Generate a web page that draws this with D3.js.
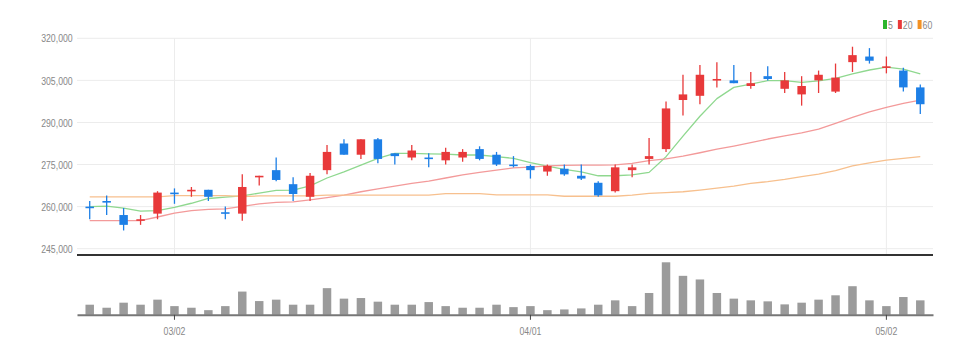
<!DOCTYPE html>
<html>
<head>
<meta charset="utf-8">
<script src="https://cdn.jsdelivr.net/npm/d3@7"></script>
<style>
  body { margin: 0; background: #fff; }
  text { font-family: "Liberation Sans Narrow", "Arial Narrow", "Liberation Sans", sans-serif; }
</style>
</head>
<body>
<script>
const dates = [
  "2022-02-22","2022-02-23","2022-02-24","2022-02-25","2022-02-28",
  "2022-03-02","2022-03-03","2022-03-04","2022-03-07","2022-03-08","2022-03-10","2022-03-11",
  "2022-03-14","2022-03-15","2022-03-16","2022-03-17","2022-03-18","2022-03-21","2022-03-22",
  "2022-03-23","2022-03-24","2022-03-25","2022-03-28","2022-03-29","2022-03-30","2022-03-31",
  "2022-04-01","2022-04-04","2022-04-05","2022-04-06","2022-04-07","2022-04-08","2022-04-11",
  "2022-04-12","2022-04-13","2022-04-14","2022-04-15","2022-04-18","2022-04-19","2022-04-20",
  "2022-04-21","2022-04-22","2022-04-25","2022-04-26","2022-04-27","2022-04-28","2022-04-29",
  "2022-05-02","2022-05-03","2022-05-04"
];

const open  = [260000,262000,257000,255000,257500,265000,265500,266000,258000,257500,270500,273000,268000,263500,273000,282500,278500,284000,279000,277500,277500,276500,277500,280500,278500,275000,274500,272500,273500,271000,268500,265500,273000,277000,280500,298000,299500,305000,305000,303000,306500,302000,300000,305000,301000,311500,313500,309500,308500,302500];
const high  = [262000,264000,259500,257000,265500,266500,267000,266000,260000,271500,271000,277500,270500,272000,282000,284000,284000,284500,279000,282000,279000,281000,280500,281500,279500,278000,275000,275000,275000,275000,269000,275000,275000,284500,297500,307000,310500,311500,310500,308000,310000,308000,306500,308500,311000,317000,316500,313500,309500,303500];
const low   = [255500,257000,251500,253500,255500,261000,263500,262000,255500,255000,267500,269000,262000,262000,271500,278500,277000,275500,275000,276500,274000,275000,276000,276500,274500,274000,270000,271000,271000,269500,263500,265000,270500,275000,279500,292500,296500,302500,304000,302000,305000,300500,296000,300500,300500,308000,311000,307500,301000,293000];
const close = [259500,261500,253500,255500,265000,264500,266000,263500,257500,267000,271000,269500,264500,271000,279500,278500,284000,277000,278000,280000,277000,279500,279500,277000,275000,274500,273000,274500,271500,270000,264000,274000,274000,278000,295000,300000,307000,305500,304000,304000,305500,305000,303000,307000,306000,314000,312000,310000,302500,296500];

const ma5  = [260000,260200,259500,258400,258600,259700,261200,262900,263400,263800,264800,265800,265900,267400,270200,272400,274800,277200,279000,279000,278800,278700,278400,278400,277800,277200,275700,274400,273300,272400,271000,271000,271300,272200,277800,285100,292200,298500,302500,303700,304900,304900,304300,304800,305700,307300,308700,309700,309000,307300];
const ma20 = [255000,255000,255000,255000,256300,257700,258600,259000,259200,260100,261000,261500,261700,262400,263200,264100,265300,266300,267300,268300,269100,270200,271300,272200,273000,273800,274100,274500,274700,274800,274800,274900,275400,276400,277000,278000,279200,280500,281600,282800,284100,285200,286300,287600,289700,291800,293800,295400,296800,298000];
const ma60 = [263500,263500,263500,263500,263500,263900,263900,263900,263900,263600,263800,263800,263800,263800,264100,264100,264100,264100,264100,264100,264100,264600,264600,264600,264200,264200,264200,264200,263700,263700,263700,263700,264100,264700,265000,265300,265900,266600,267300,268300,268900,269700,270700,271600,272800,274500,275600,276600,277200,277800];

const volume = [250000,175000,300000,250000,375000,215000,175000,115000,215000,575000,340000,375000,250000,250000,660000,400000,415000,325000,250000,250000,315000,215000,175000,175000,250000,190000,215000,115000,133000,158000,250000,358000,215000,540000,1300000,965000,875000,540000,400000,358000,333000,258000,300000,375000,483000,708000,358000,215000,440000,358000];

const yTicks = [245000, 260000, 275000, 290000, 305000, 320000];
const xTicks = ["2022-03-02", "2022-04-01", "2022-05-02"];
const tickLabels = ["03/02", "04/01", "05/02"];

const maSeries = [
  { name: "5",  values: ma5,  color: "#8fd88f", key: "#2cb52c" },
  { name: "20", values: ma20, color: "#f39a9a", key: "#e8393a" },
  { name: "60", values: ma60, color: "#f7c08e", key: "#f39224" }
];

const W = 980, H = 354;
const left = 77, right = 933;
const priceTop = 38.3, priceBottom = 248.7, panelBottom = 255;
const volBase = 314.8, volTop = 262.3;
const squeeze = "scale(0.76,1)";

const svg = d3.select("body").append("svg")
  .attr("width", W)
  .attr("height", H);

const x = d3.scaleBand()
  .domain(dates)
  .range([left, right])
  .padding(0.5);

const y = d3.scaleLinear()
  .domain([245000, 320000])
  .range([priceBottom, priceTop]);

const yv = d3.scaleLinear()
  .domain([0, d3.max(volume)])
  .range([volBase, volTop]);

const cx = d => x(d) + x.bandwidth() / 2;

// grid
svg.append("g")
  .selectAll("line.h")
  .data(yTicks)
  .enter().append("line")
  .attr("x1", left).attr("x2", right)
  .attr("y1", d => y(d)).attr("y2", d => y(d))
  .attr("stroke", "#ececec")
  .attr("stroke-width", 1);

svg.append("g")
  .selectAll("line.v")
  .data(xTicks)
  .enter().append("line")
  .attr("x1", d => cx(d)).attr("x2", d => cx(d))
  .attr("y1", priceTop).attr("y2", panelBottom)
  .attr("stroke", "#ececec")
  .attr("stroke-width", 1);

// y axis labels
const yAxis = svg.append("g")
  .attr("transform", `translate(${left - 2},0)`)
  .call(d3.axisLeft(y).tickValues(yTicks).tickSize(0).tickFormat(d3.format(",")));
yAxis.select(".domain").remove();
yAxis.selectAll("text")
  .attr("fill", "#888")
  .attr("transform", squeeze)
  .style("font-size", "11.5px");

// moving averages
const line = d3.line()
  .x((d, i) => cx(dates[i]))
  .y(d => y(d));

maSeries.forEach(s => {
  svg.append("path")
    .datum(s.values)
    .attr("fill", "none")
    .attr("stroke", s.color)
    .attr("stroke-width", 1.3)
    .attr("stroke-linejoin", "round")
    .attr("d", line);
});

// candles
const candles = dates.map((d, i) => ({ d, o: open[i], h: high[i], l: low[i], c: close[i] }));
const upColor = "#e8393a", downColor = "#1d7fe6";
const col = k => k.c >= k.o ? upColor : downColor;

const cg = svg.append("g");
cg.selectAll("line.wick")
  .data(candles)
  .enter().append("line")
  .attr("x1", k => cx(k.d)).attr("x2", k => cx(k.d))
  .attr("y1", k => y(k.h)).attr("y2", k => y(k.l))
  .attr("stroke", col)
  .attr("stroke-width", 1.3);

cg.selectAll("rect.body")
  .data(candles)
  .enter().append("rect")
  .attr("x", k => x(k.d))
  .attr("width", x.bandwidth())
  .attr("y", k => y(Math.max(k.o, k.c)))
  .attr("height", k => Math.max(1.6, Math.abs(y(k.o) - y(k.c))))
  .attr("fill", col);

// panel separator
svg.append("line")
  .attr("x1", left).attr("x2", right)
  .attr("y1", panelBottom).attr("y2", panelBottom)
  .attr("stroke", "#333")
  .attr("stroke-width", 2);

// volume
svg.append("g")
  .selectAll("rect")
  .data(volume)
  .enter().append("rect")
  .attr("x", (v, i) => x(dates[i]))
  .attr("width", x.bandwidth())
  .attr("y", v => yv(v))
  .attr("height", v => volBase - yv(v))
  .attr("fill", "#9b9b9b");

const xAxis = svg.append("g")
  .attr("transform", `translate(0,${volBase})`)
  .call(d3.axisBottom(x).tickValues(xTicks).tickSize(5).tickSizeOuter(0).tickPadding(7)
    .tickFormat(d => tickLabels[xTicks.indexOf(d)]));
xAxis.select(".domain")
  .attr("stroke", "#777")
  .attr("stroke-width", 2);
xAxis.selectAll(".tick line").attr("stroke", "#444");
xAxis.selectAll("text")
  .attr("fill", "#888")
  .attr("transform", squeeze)
  .style("font-size", "11.5px");

// legend
const lg = svg.append("g").attr("transform", "translate(883,20)");
let lx = 0;
maSeries.forEach(s => {
  lg.append("rect")
    .attr("x", lx).attr("y", 0)
    .attr("width", 4).attr("height", 9)
    .attr("fill", s.key);
  const t = lg.append("text")
    .attr("x", 0).attr("y", 8.5)
    .attr("transform", `translate(${lx + 5},0) ${squeeze}`)
    .attr("fill", "#888")
    .style("font-size", "11.5px")
    .text(s.name);
  lx += 5 + t.node().getComputedTextLength() * 0.76 + 5;
});
</script>
</body>
</html>
